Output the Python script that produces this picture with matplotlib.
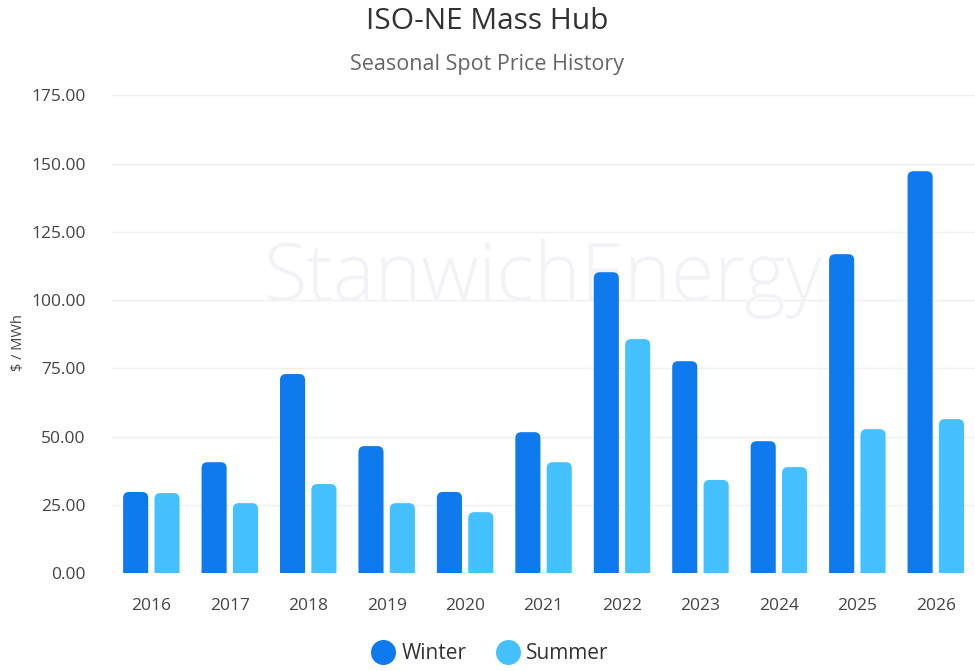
import matplotlib.pyplot as plt
import numpy as np
from matplotlib.patches import FancyBboxPatch
from matplotlib.lines import Line2D

plt.rcParams['font.family'] = ['Open Sans', 'DejaVu Sans']

years = ["2016", "2017", "2018", "2019", "2020", "2021", "2022", "2023", "2024", "2025", "2026"]
winter = [29.7, 40.6, 72.9, 46.5, 29.7, 51.6, 110.2, 77.6, 48.3, 116.8, 147.2]
summer = [29.3, 25.6, 32.6, 25.6, 22.3, 40.6, 85.7, 34.1, 38.8, 52.7, 56.4]

WINTER_C = "#0E7AED"
SUMMER_C = "#45C1FF"

fig = plt.figure(figsize=(9.75, 6.71), dpi=100)
ax = fig.add_axes([0.115, 0.146, 0.885, 0.712])

x = np.arange(len(years))
w = 0.32
ax.set_xlim(-0.5, len(years) - 0.5)
ax.set_ylim(0, 175)

# pixel scale so the rounded tops stay circular
ax_w_px = 0.885 * 975
ax_h_px = 0.712 * 671
dx_per_px = len(years) / ax_w_px
dy_per_px = 175 / ax_h_px
aspect = dy_per_px / dx_per_px
r = 6 * dx_per_px
below = 10 * dy_per_px   # start under the axis so the bottom rounding is clipped off


def rounded_bars(xs, vals, color):
    for xi, v in zip(xs, vals):
        p = FancyBboxPatch((xi - w / 2, -below), w, v + below,
                           boxstyle="round,pad=0,rounding_size=%f" % r,
                           mutation_aspect=aspect, fc=color, ec="none", zorder=3)
        ax.add_patch(p)


rounded_bars(x - 0.2, winter, WINTER_C)
rounded_bars(x + 0.2, summer, SUMMER_C)

# watermark
ax.text(0.50, 0.615, "StanwichEnergy", transform=ax.transAxes, ha="center", va="center",
        fontsize=57, color="#F1F3F7", fontweight="light", zorder=1)

ax.set_yticks(np.arange(0, 176, 25))
ax.set_yticklabels(["%.2f" % v for v in np.arange(0, 176, 25)])
ax.set_xticks(x)
ax.set_xticklabels(years)
ax.tick_params(axis="both", length=0, labelsize=12.5, labelcolor="#444444")
ax.tick_params(axis="y", pad=19)
ax.tick_params(axis="x", pad=18)
ax.grid(axis="y", color="#F0F0F0", linewidth=1, zorder=0)
ax.set_axisbelow(True)
for s in ax.spines.values():
    s.set_visible(False)

fig.text(0.019, 0.49, "$ / MWh", rotation=90, ha="center", va="center", fontsize=10.5, color="#444444")

fig.text(0.5, 0.968, "ISO-NE Mass Hub", ha="center", va="center", fontsize=21.5, color="#333333")
fig.text(0.5, 0.904, "Seasonal Spot Price History", ha="center", va="center", fontsize=15.5, color="#666666")

handles = [Line2D([], [], marker="o", ls="none", ms=17, color=WINTER_C, label="Winter"),
           Line2D([], [], marker="o", ls="none", ms=17, color=SUMMER_C, label="Summer")]
fig.legend(handles=handles, loc="center", bbox_to_anchor=(0.504, 0.026), ncol=2, frameon=False,
           fontsize=15, handlelength=0.9, handletextpad=0.45, columnspacing=1.5,
           labelcolor="#333333")

fig.savefig("out.png", dpi=100)
